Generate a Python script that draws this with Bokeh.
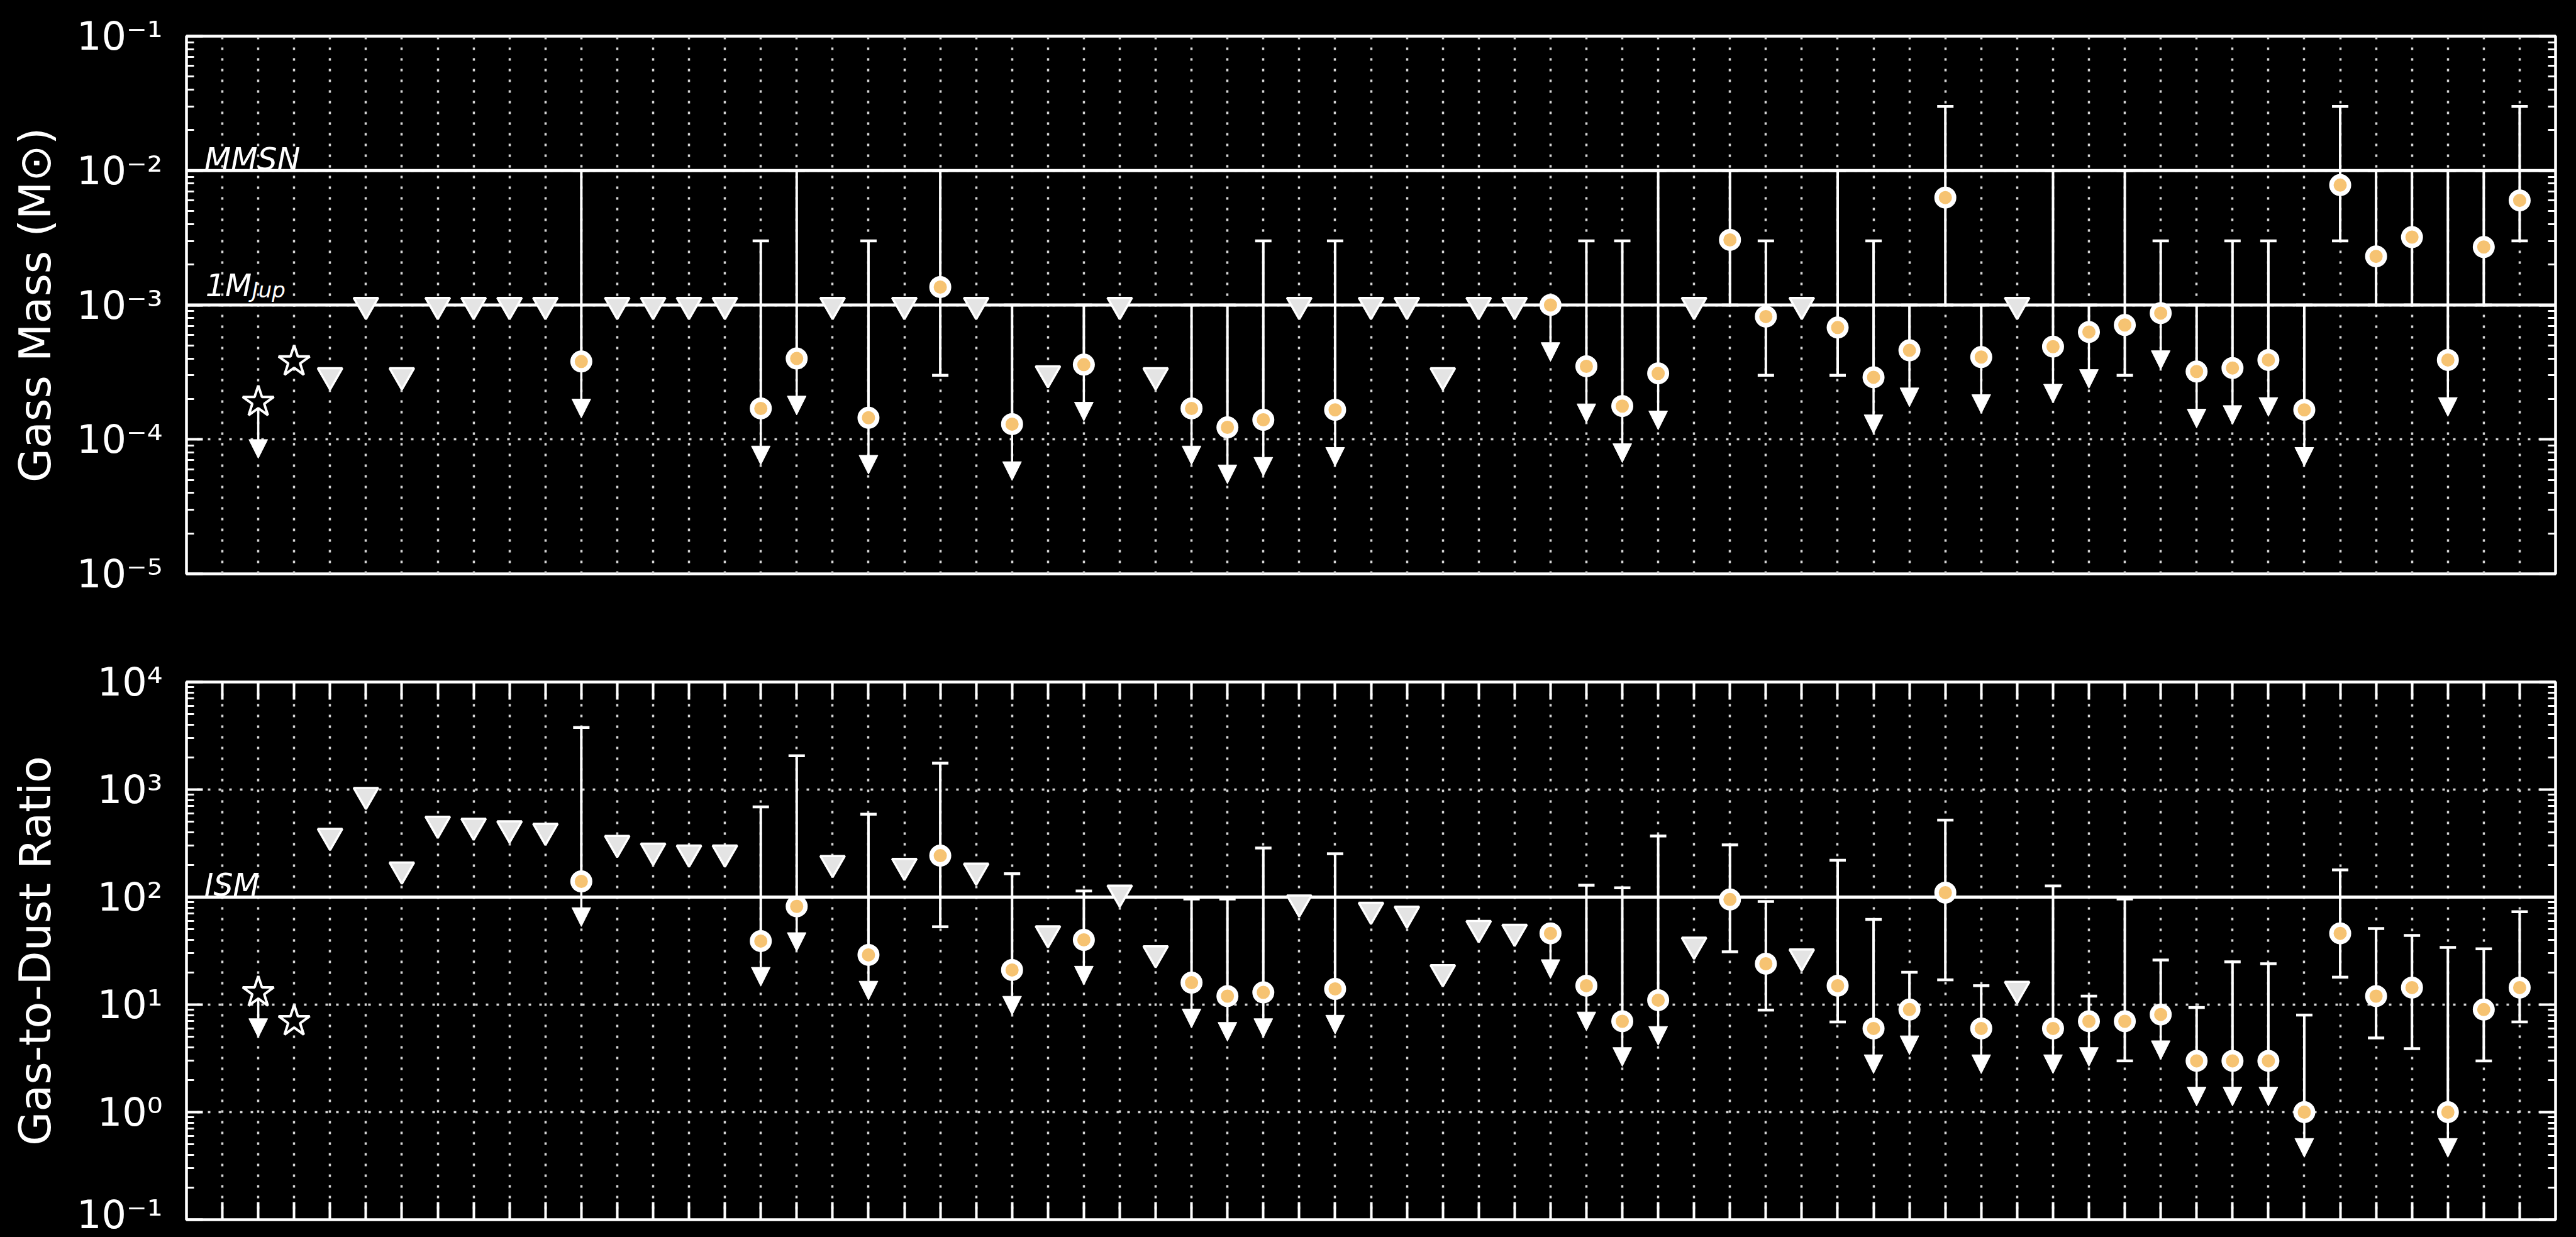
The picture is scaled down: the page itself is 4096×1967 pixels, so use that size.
from bokeh.plotting import figure
from bokeh.layouts import column
from bokeh.models import (ColumnDataSource, Range1d, LinearAxis, LogAxis, FixedTicker,
                          CustomJSTickFormatter, Span, Arrow, NormalHead)
from bokeh.core.properties import value
from bokeh.embed import file_html
from bokeh.resources import INLINE

# ---------------------------------------------------------------- data
# slot positions along x (slot 0 is left empty); sources sit at 1..64
slots = list(range(65))
source_x = list(range(1, 65))

# "star" = reference objects, "nondet" = non-detection limit, "det" = detection
marker_kind = [
    "star", "star", "nondet", "nondet", "nondet", "nondet", "nondet", "nondet", "nondet", "det",
    "nondet", "nondet", "nondet", "nondet", "det", "det", "nondet", "det", "nondet", "det",
    "nondet", "det", "nondet", "det", "nondet", "nondet", "det", "det", "det", "nondet",
    "det", "nondet", "nondet", "nondet", "nondet", "nondet", "det", "det", "det", "det",
    "nondet", "det", "det", "nondet", "det", "det", "det", "det", "det", "nondet",
    "det", "det", "det", "det", "det", "det", "det", "det", "det", "det",
    "det", "det", "det", "det",
]

# gas mass (Msun)
gas_mass = [
    1.9e-4, 3.8e-4, 3.0e-4, 1e-3, 3.0e-4, 1e-3, 1e-3, 1e-3, 1e-3, 3.8e-4,
    1e-3, 1e-3, 1e-3, 1e-3, 1.7e-4, 4.0e-4, 1e-3, 1.45e-4, 1e-3, 1.36e-3,
    1e-3, 1.3e-4, 3.1e-4, 3.6e-4, 1e-3, 3.0e-4, 1.7e-4, 1.23e-4, 1.4e-4, 1e-3,
    1.66e-4, 1e-3, 1e-3, 3.0e-4, 1e-3, 1e-3, 1e-3, 3.5e-4, 1.77e-4, 3.1e-4,
    1e-3, 3.05e-3, 8.2e-4, 1e-3, 6.8e-4, 2.9e-4, 4.6e-4, 6.3e-3, 4.1e-4, 1e-3,
    4.9e-4, 6.3e-4, 7.1e-4, 8.7e-4, 3.2e-4, 3.4e-4, 3.9e-4, 1.66e-4, 7.8e-3, 2.3e-3,
    3.2e-3, 3.9e-4, 2.7e-3, 6.0e-3,
]
gas_mass_hi = [
    None, None, None, None, None, None, None, None, None, 1e-2,
    None, None, None, None, 3e-3, 1e-2, None, 3e-3, None, 1e-2,
    None, 1e-3, None, 1e-3, None, None, 1e-3, 1e-3, 3e-3, None,
    3e-3, None, None, None, None, None, None, 3e-3, 3e-3, 1e-2,
    None, 1e-2, 3e-3, None, 1e-2, 3e-3, 1e-3, 3e-2, 1e-3, None,
    1e-2, 1e-3, 1e-2, 3e-3, 1e-3, 3e-3, 3e-3, 1e-3, 3e-2, 1e-2,
    1e-2, 1e-2, 1e-2, 3e-2,
]
gas_mass_lo = [
    None, None, None, None, None, None, None, None, None, None,
    None, None, None, None, None, None, None, None, None, 3e-4,
    None, None, None, None, None, None, None, None, None, None,
    None, None, None, None, None, None, None, None, None, None,
    None, 1e-3, 3e-4, None, 3e-4, None, None, 1e-3, None, None,
    None, None, 3e-4, None, None, None, None, None, 3e-3, 1e-3,
    1e-3, None, 1e-3, 3e-3,
]
# 1 = upper limit (drawn with a downward arrow)
upper_limit = [
    1, 0, 0, 0, 0, 0, 0, 0, 0, 1,
    0, 0, 0, 0, 1, 1, 0, 1, 0, 0,
    0, 1, 0, 1, 0, 0, 1, 1, 1, 0,
    1, 0, 0, 0, 0, 0, 1, 1, 1, 1,
    0, 0, 0, 0, 0, 1, 1, 0, 1, 0,
    1, 1, 0, 1, 1, 1, 1, 1, 0, 0,
    0, 1, 0, 0,
]

# gas-to-dust ratio
gdr = [
    13, 7.0, 370, 890, 180, 480, 460, 435, 413, 140,
    318, 270, 259, 259, 39, 82, 207, 29, 195, 243,
    176, 21, 46, 40, 110, 30, 16, 12, 13, 89,
    14, 76, 70, 20, 51.5, 47.5, 46, 15, 7.0, 11,
    36, 95, 24, 28, 15, 6.0, 9.0, 110, 6.0, 14,
    6.0, 7.0, 7.0, 8.1, 3.0, 3.0, 3.0, 1.0, 46, 12,
    14.4, 1.0, 9.0, 14.4,
]
gdr_hi = [
    None, None, None, None, None, None, None, None, None, 3780,
    None, None, None, None, 690, 2060, None, 590, None, 1760,
    None, 165, None, 114, None, None, 96, 96, 286, None,
    253, None, None, None, None, None, None, 129, 122, 370,
    None, 306, 91, None, 220, 62, 20, 520, 15, None,
    127, 12, 96, 26, 9.4, 25, 24, 8.0, 179, 51,
    44, 34, 33, 73,
]
gdr_lo = [
    None, None, None, None, None, None, None, None, None, None,
    None, None, None, None, None, None, None, None, None, 53,
    None, None, None, None, None, None, None, None, None, None,
    None, None, None, None, None, None, None, None, None, None,
    None, 31, 8.9, None, 6.9, None, None, 17, None, None,
    None, None, 3.0, None, None, None, None, None, 18, 4.9,
    3.9, None, 3.0, 6.9,
]

# reference levels
MMSN = 1e-2
M_JUP = 1e-3
ISM_GDR = 100.0

# ---------------------------------------------------------------- style
FONT = "DejaVu Sans"
WHITE = "white"
ORANGE = "#F6C372"
ARROW_DEX = 0.42          # arrow length in decades

sup_formatter = CustomJSTickFormatter(code="""
const sup = {"-": "\u207b", "0": "\u2070", "1": "\u00b9", "2": "\u00b2", "3": "\u00b3",
             "4": "\u2074", "5": "\u2075", "6": "\u2076", "7": "\u2077", "8": "\u2078", "9": "\u2079"};
const e = Math.round(Math.log10(tick));
return "10" + String(e).split("").map((c) => sup[c]).join("");
""")


def blank():
    return CustomJSTickFormatter(code="return '';")


def style_y(ax, ticker, labels):
    ax.ticker = ticker
    ax.formatter = sup_formatter if labels else blank()
    ax.major_tick_in = 26
    ax.major_tick_out = 0
    ax.minor_tick_in = 12
    ax.minor_tick_out = 0
    ax.major_tick_line_color = WHITE
    ax.minor_tick_line_color = WHITE
    ax.major_tick_line_width = 4
    ax.minor_tick_line_width = 3
    ax.axis_line_color = None
    ax.major_label_text_color = WHITE
    ax.major_label_text_font = FONT
    ax.major_label_text_font_size = "62px"
    ax.major_label_standoff = 38 if labels else 0


def style_x(ax):
    ax.ticker = FixedTicker(ticks=slots, minor_ticks=[])
    ax.formatter = blank()
    ax.major_tick_in = 28
    ax.major_tick_out = 0
    ax.major_tick_line_color = WHITE
    ax.major_tick_line_width = 4
    ax.minor_tick_line_color = None
    ax.axis_line_color = None
    ax.major_label_standoff = 0


def make_panel(height, y_lo, y_hi, exps, border_top, border_bottom, label, x_ticks):
    p = figure(width=4096, height=height, x_range=Range1d(-1, 65), y_range=Range1d(y_lo, y_hi),
               y_axis_type="log", output_backend="svg", toolbar_location=None,
               min_border_left=296, min_border_right=33,
               min_border_top=border_top, min_border_bottom=border_bottom,
               background_fill_color="black", border_fill_color="black",
               outline_line_color=WHITE, outline_line_width=4.5)
    ticker = FixedTicker(ticks=[10.0 ** e for e in exps],
                         minor_ticks=[m * 10.0 ** e for e in exps[:-1] for m in range(2, 10)])
    style_y(p.yaxis[0], ticker, True)
    p.yaxis.axis_label = label
    p.yaxis.axis_label_text_font = FONT
    p.yaxis.axis_label_text_font_style = "normal"
    p.yaxis.axis_label_text_font_size = "70px"
    p.yaxis.axis_label_text_color = WHITE
    p.yaxis.axis_label_standoff = 22

    right = LogAxis()
    style_y(right, ticker, False)
    p.add_layout(right, "right")

    if x_ticks:
        style_x(p.xaxis[0])
        top = LinearAxis()
        style_x(top)
        p.add_layout(top, "above")
    else:
        p.xaxis.visible = False

    p.xgrid.ticker = FixedTicker(ticks=slots)
    p.ygrid.ticker = ticker
    p.grid.grid_line_color = "#d6d6d6"
    p.grid.grid_line_width = 3.5
    p.grid.grid_line_dash = "4 13"
    return p


def draw_points(p, vals, his, los):
    # down arrows for upper limits
    ax_, ay_, at_ = [], [], []
    for x, v, ul in zip(source_x, vals, upper_limit):
        if ul:
            ax_.append(x)
            ay_.append(v)
            at_.append(v * 10 ** (-ARROW_DEX))
    arrows = Arrow(end=NormalHead(size=30, fill_color=WHITE, line_color=WHITE, line_width=1),
                   x_start="x", y_start="y", x_end="x", y_end="tip",
                   source=ColumnDataSource(dict(x=ax_, y=ay_, tip=at_)),
                   line_color=WHITE, line_width=3.5, level="underlay")
    p.add_layout(arrows)

    # error bars with caps
    ex, e0, e1, cx, cy = [], [], [], [], []
    for x, v, hi, lo in zip(source_x, vals, his, los):
        if hi is None and lo is None:
            continue
        ex.append(x)
        e0.append(lo if lo is not None else v)
        e1.append(hi if hi is not None else v)
        for b in (hi, lo):
            if b is not None:
                cx.append(x)
                cy.append(b)
    p.segment(x0=ex, y0=e0, x1=ex, y1=e1, line_color=WHITE, line_width=4)
    p.scatter(x=cx, y=cy, marker="dash", size=26, line_color=WHITE, line_width=4.5)

    def pick(kind):
        xs = [x for x, k in zip(source_x, marker_kind) if k == kind]
        ys = [v for v, k in zip(vals, marker_kind) if k == kind]
        return xs, ys

    xs, ys = pick("nondet")
    p.scatter(x=xs, y=ys, marker="inverted_triangle", size=39,
              fill_color="#e4e4e4", line_color=WHITE, line_width=3.5)
    xs, ys = pick("det")
    p.scatter(x=xs, y=ys, marker="circle", size=28,
              fill_color=ORANGE, line_color=WHITE, line_width=7)
    xs, ys = pick("star")
    p.scatter(x=xs, y=ys, marker="star", size=52,
              fill_color="black", line_color=WHITE, line_width=4)


def ref_line(p, level):
    p.add_layout(Span(location=level, dimension="width", line_color=WHITE,
                      line_width=5, level="underlay"))


def tag(p, x, y, text, size, dx=0, dy=0):
    p.text(x=[x], y=[y], text=[text], text_font=value(FONT), text_font_style="italic",
           text_font_size=size, text_color=WHITE, text_baseline="alphabetic",
           text_align="left", x_offset=dx, y_offset=dy)


# ---------------------------------------------------------------- gas mass
top = make_panel(998, 1e-5, 1e-1, [-5, -4, -3, -2, -1], 57, 86,
                 "Gass Mass (M\u2299)", False)
ref_line(top, MMSN)
ref_line(top, M_JUP)
draw_points(top, gas_mass, gas_mass_hi, gas_mass_lo)
tag(top, -0.5, MMSN, "MMSN", "49px", dy=-18)
tag(top, -0.47, M_JUP, "1M", "49px", dy=-31)
tag(top, -0.47, M_JUP, "Jup", "34px", dx=74, dy=-24)

# ---------------------------------------------------------------- gas-to-dust
bottom = make_panel(969, 1e-1, 1e4, [-1, 0, 1, 2, 3, 4], 86, 28,
                    "Gas-to-Dust Ratio", True)
ref_line(bottom, ISM_GDR)
draw_points(bottom, gdr, gdr_hi, gdr_lo)
tag(bottom, -0.5, ISM_GDR, "ISM", "49px", dy=-19)

layout = column(top, bottom, spacing=0)
layout.background = "black"

open("out.html", "w").write(file_html(layout, INLINE))
